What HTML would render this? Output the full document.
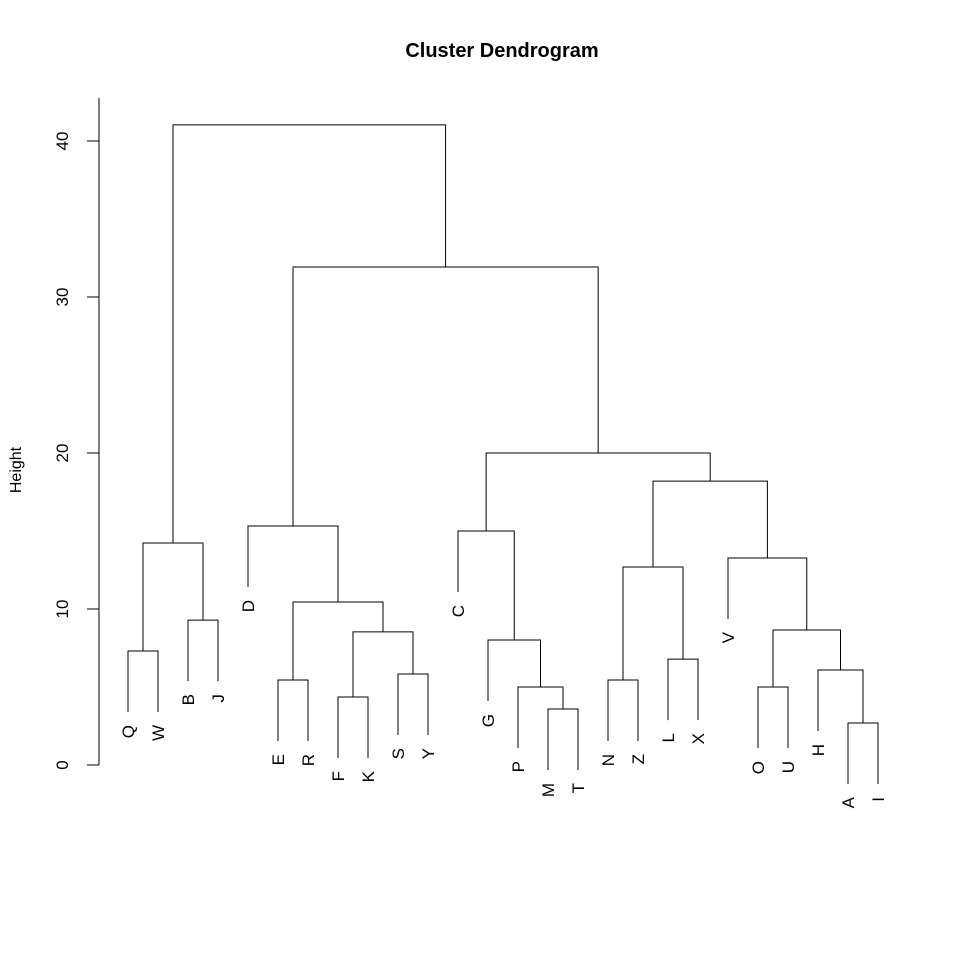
<!DOCTYPE html>
<html><head><meta charset="utf-8"><style>
html,body{margin:0;padding:0;background:#fff}
svg{display:block;font-family:"Liberation Sans",sans-serif}
</style></head><body>
<svg id="chart" width="960" height="960" viewBox="0 0 960 960">
<rect width="960" height="960" fill="#fff"/>
<text x="502" y="57" text-anchor="middle" font-size="20" font-weight="bold">Cluster Dendrogram</text>
<text transform="translate(21,470) rotate(-90)" text-anchor="middle" font-size="16">Height</text>
<g id="axis"></g>
<g id="tree" stroke="#000" stroke-width="1" fill="none"></g>
<g id="labels" font-size="17"></g>
</svg>
<script>
const leafOrder = ["Q","W","B","J","D","E","R","F","K","S","Y","C","G","P","M","T","N","Z","L","X","V","O","U","H","A","I"];
const mergeLeft  = ["Q","B","m1","E","F","S","m5","m4","D","M","P","G","C","N","L","m14","A","H","O","m19","V","m16","m13","m9","m3"];
const mergeRight = ["W","J","m2","R","K","Y","m6","m7","m8","T","m10","m11","m12","Z","X","m15","I","m17","U","m18","m20","m21","m22","m23","m24"];
const mergeHeights = [7.31,9.29,14.23,5.45,4.36,5.83,8.53,10.45,15.32,3.59,5.0,8.01,15.0,5.45,6.79,12.69,2.69,6.09,5.0,8.65,13.27,18.2,20.0,31.92,41.03];
const yTicks = [0,10,20,30,40];

const NS = "http://www.w3.org/2000/svg";
const y0 = 765, pxPerUnit = 15.6, hang = 3.91;
const yScale = v => y0 - v * pxPerUnit;
const xScale = i => 128 + i * 30;

const axis = document.getElementById('axis');
function mk(tag, attrs, parent){ const e=document.createElementNS(NS,tag); for(const k in attrs) e.setAttribute(k,attrs[k]); parent.appendChild(e); return e; }
const axLine = mk('line',{x1:99,x2:99,y1:98,y2:yScale(0),stroke:'#000'},axis);


yTicks.forEach(t=>{
  const l = mk('line',{x1:87,x2:99,y1:yScale(t),y2:yScale(t),stroke:'#000'},axis);
  
  
  const tx = mk('text',{transform:`translate(68,${yScale(t)}) rotate(-90)`,'text-anchor':'middle','font-size':17},axis);
  tx.textContent = t;
  
  
});

const tree = document.getElementById('tree');
const labels = document.getElementById('labels');
const nodes = {};
leafOrder.forEach((n,i)=>{ nodes[n] = {x:xScale(i), h:null, leaf:true}; });
function topOf(n, parentH){ return nodes[n].leaf ? parentH - hang : nodes[n].h; }
mergeHeights.forEach((h,k)=>{
  const a = mergeLeft[k], b = mergeRight[k];
  const xa = nodes[a].x, xb = nodes[b].x;
  const ya = yScale(topOf(a,h)), yb = yScale(topOf(b,h)), yh = yScale(h);
  const p = mk('path',{d:`M${xa},${ya}V${yh}H${xb}V${yb}`},tree);
  
  
  [a,b].forEach(n=>{
    if(nodes[n].leaf){
      const by = yScale(h - hang);
      const t = mk('text',{transform:`translate(${nodes[n].x+6},${by+13}) rotate(-90)`,'text-anchor':'end'},labels);
      t.textContent = n;
      
      
    }
  });
  nodes['m'+(k+1)] = {x:(xa+xb)/2, h:h, leaf:false};
});
</script>
</body></html>
